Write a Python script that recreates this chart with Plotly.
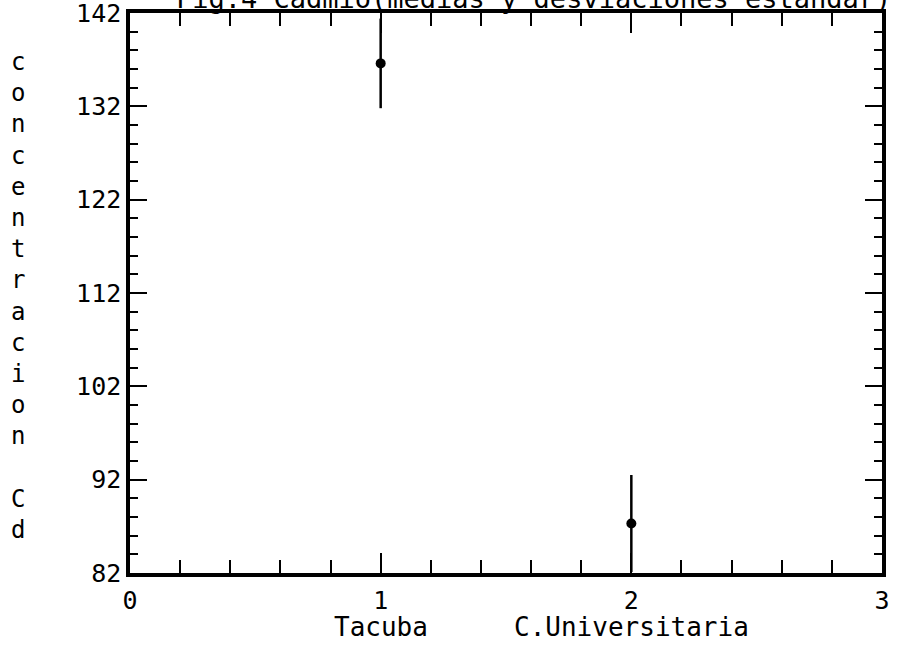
import plotly.graph_objects as go

# Data
sites = ["Tacuba", "C.Universitaria"]
site_x = [1, 2]
means = [136.6, 87.3]
sds = [4.8, 5.2]

x_tickvals = [0, 1, 2, 3]
x_ticktext = ["0", "1", "2", "3"]
y_tickvals = [82, 92, 102, 112, 122, 132, 142]

title_text = "Fig.4 Cadmio(medias y desviaciones estandar)"
ylabel = "concentracion Cd"

FONT = "DejaVu Sans Mono"

fig = go.Figure()
fig.add_trace(go.Scatter(
    x=site_x, y=means,
    mode="markers",
    marker=dict(color="black", size=10),
    error_y=dict(type="data", array=sds, visible=True, color="black",
                 thickness=2.5, width=0),
    showlegend=False,
    cliponaxis=False,
))

axis_common = dict(
    showline=True, linecolor="black", linewidth=3.5, mirror="ticks",
    ticks="inside", tickcolor="black", tickwidth=2,
    showgrid=False, zeroline=False, automargin=False,
    ticklabeloverflow="allow",
    tickfont=dict(family=FONT, size=25, color="black"),
)

fig.update_xaxes(
    range=[0, 3], tickvals=x_tickvals, ticktext=x_ticktext,
    ticklen=20, ticklabelstandoff=2,
    minor=dict(dtick=0.2, ticks="inside", ticklen=13, tickwidth=2,
               tickcolor="black", showgrid=False),
    **axis_common,
)
fig.update_yaxes(
    range=[82, 142], tickvals=y_tickvals,
    ticklen=17, ticklabelstandoff=0,
    minor=dict(dtick=2, ticks="inside", ticklen=8, tickwidth=2,
               tickcolor="black", showgrid=False),
    **axis_common,
)

# category names under the tick numbers
for xv, name in zip(site_x, sites):
    fig.add_annotation(
        x=xv, xref="x", y=0, yref="paper", yanchor="top", yshift=-37,
        text=name, showarrow=False,
        font=dict(family=FONT, size=26, color="black"),
    )

# vertical stacked y-axis label
fig.add_annotation(
    x=-0.149, xref="paper", y=0.495, yref="paper",
    xanchor="center", yanchor="middle",
    text="<br>".join(ch if ch != " " else "&nbsp;" for ch in ylabel),
    showarrow=False,
    font=dict(family=FONT, size=24, color="black"),
)

# title (cut off at top of page)
fig.add_annotation(
    x=1.015, xref="paper", xanchor="right",
    y=1, yref="paper", yanchor="bottom", yshift=-3,
    text=title_text, showarrow=False,
    font=dict(family=FONT, size=27, color="black"),
)

fig.update_layout(
    width=899, height=652,
    margin=dict(l=130, r=17, t=13, b=79),
    paper_bgcolor="white", plot_bgcolor="white",
)

fig.write_html("out.html")
